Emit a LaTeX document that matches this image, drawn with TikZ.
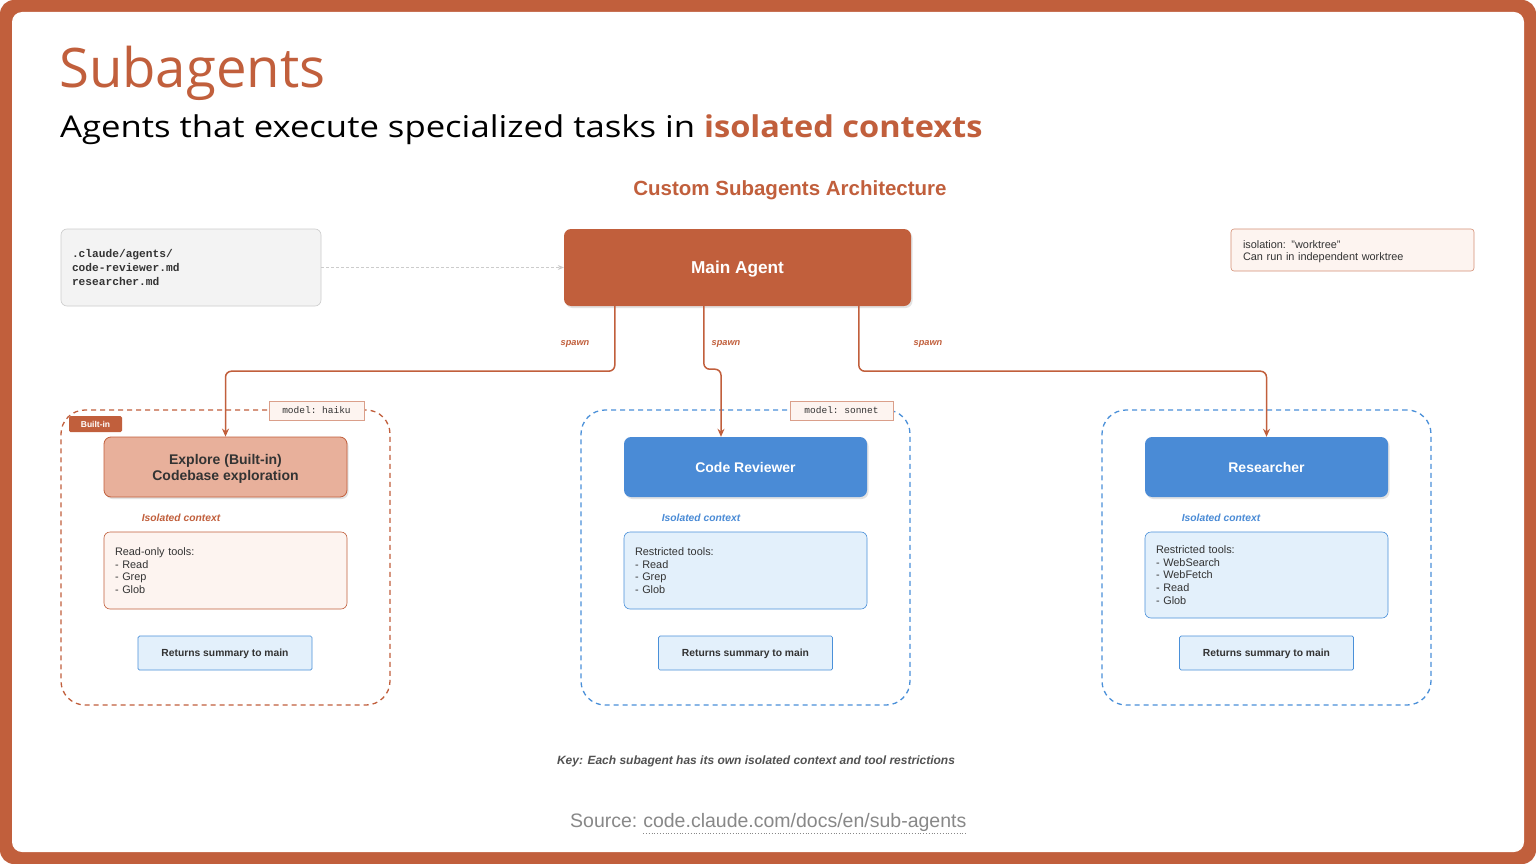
\documentclass[tikz,border=0pt]{standalone}
\usepackage{fontspec}
\setmainfont{Liberation Sans}
\setmonofont{Liberation Mono}
\newfontfamily\titlefont{Open Sans}
\newfontfamily\subfont[FakeStretch=1.156, BoldFeatures={FakeStretch=1.085}]{Open Sans}
\usetikzlibrary{arrows.meta,shadows,calc}
\definecolor{corange}{HTML}{C15F3C}
\definecolor{csalmon}{HTML}{E8B09B}
\definecolor{clight}{HTML}{FDF4F0}
\definecolor{cblue}{HTML}{4A8BD6}
\definecolor{cblueb}{HTML}{4A90D9}
\definecolor{clblue}{HTML}{E3F0FB}
\definecolor{cfile}{HTML}{F3F3F3}
\definecolor{cfileb}{HTML}{CCCCCC}
\definecolor{cdark}{HTML}{333333}
\definecolor{cgray}{HTML}{888888}
\tikzset{
  agentbox/.style={rounded corners=7pt, minimum width=243pt, minimum height=60pt, align=center, text depth=0pt,
    drop shadow={opacity=0.22, shadow xshift=1.5pt, shadow yshift=-2pt}},
  toolbox/.style={rounded corners=6pt, minimum width=243pt, minimum height=77pt, text width=221pt,
    inner xsep=11pt, align=left, text=cdark, font=\fontsize{10.9}{12.8}\selectfont, line width=0.6pt},
  retbox/.style={minimum width=174pt, minimum height=34pt, fill=clblue, draw=cblueb, line width=0.7pt, text depth=0pt,
    text=cdark, font=\bfseries\fontsize{10.3}{12}\selectfont, rounded corners=1.5pt},
  group/.style={rounded corners=24pt, minimum width=329pt, minimum height=295pt, dashed,
    dash pattern=on 5pt off 4pt, line width=1.3pt},
  modelbox/.style={fill=clight, draw=corange!60, line width=0.6pt, minimum height=19pt,
    font=\ttfamily\fontsize{9.5}{11}\selectfont, text=cdark},
  isolabel/.style={font=\bfseries\itshape\fontsize{10.3}{12}\selectfont},
  spawnlabel/.style={font=\bfseries\itshape\fontsize{9.2}{11}\selectfont, text=corange},
  spawnline/.style={draw=corange, line width=1.5pt, rounded corners=6pt,
    -{Stealth[length=8pt,width=7pt]}},
}
\begin{document}
\begin{tikzpicture}[x=1pt,y=-1pt]
\useasboundingbox (0,0) rectangle (1536,864);
% frame
\fill[white] (0,0) rectangle (1536,864);
\fill[corange, rounded corners=14pt] (0,0) rectangle (1536,864);
\fill[white!98!corange!30, rounded corners=10pt] (12,12) rectangle (1524,852);
\fill[white, rounded corners=10pt] (13,13) rectangle (1523,851);

% titles
\node[anchor=base west, inner sep=0, text=corange, font=\titlefont\fontsize{54.5}{60}\selectfont] (title) at (59,88) {Subagents};
\node[anchor=base west, inner sep=0, text=black, font=\subfont\fontsize{30}{36}\selectfont] (subtitle) at (60,138)
  {Agents that execute specialized tasks in \textcolor{corange}{\bfseries isolated contexts}};
\node[text=corange, text depth=0pt, font=\bfseries\fontsize{20.5}{24}\selectfont] (arch) at (790,188) {Custom Subagents Architecture};

% top row
\node[fill=cfile, draw=cfileb, line width=0.6pt, rounded corners=6pt, minimum width=260pt, minimum height=77pt,
  text width=238pt, inner xsep=11pt, align=left, font=\ttfamily\bfseries\fontsize{11.2}{14}\selectfont, text=cdark]
  (file) at (191,267.5) {.claude/agents/\\code-reviewer.md\\researcher.md};
\node[agentbox, fill=corange, minimum width=347pt, minimum height=77pt, text=white,
  font=\bfseries\fontsize{17.2}{20}\selectfont] (main) at (737.5,267.5) {Main Agent};
\node[fill=clight, draw=corange!70, line width=0.6pt, rounded corners=3pt, minimum width=243pt, minimum height=42pt,
  text width=219pt, inner xsep=12pt, align=left, text=cdark, text depth=10pt, font=\fontsize{10.9}{12}\selectfont]
  (iso) at (1352.5,250) {isolation: "worktree"\\Can run in independent worktree};
\draw[draw=cfileb, dashed, dash pattern=on 3pt off 2pt, line width=0.7pt, -{Stealth[length=6pt,width=5pt]}] (file) -- (main);

% groups
\node[group, draw=corange] (g1) at (225.5,557.5) {};
\node[group, draw=cblueb] (g2) at (745.5,557.5) {};
\node[group, draw=cblueb] (g3) at (1266.5,557.5) {};

\node[modelbox, minimum width=95pt] (m1) at (316.5,410.5) {model: haiku};
\node[modelbox, minimum width=103pt] (m2) at (841.5,410.5) {model: sonnet};
\node[fill=corange, rounded corners=1.5pt, minimum width=53pt, minimum height=16pt, inner sep=0,
  text=white, font=\bfseries\fontsize{8.5}{10}\selectfont] (builtin) at (95.5,424) {Built-in};

% agent boxes
\node[agentbox, fill=csalmon, draw=corange, line width=0.8pt, text=cdark,
  font=\bfseries\fontsize{14}{16}\selectfont] (expl) at (225.5,467) {Explore (Built-in)\\Codebase exploration};
\node[agentbox, fill=cblue, text=white, font=\bfseries\fontsize{14}{16}\selectfont] (cr) at (745.5,467) {Code Reviewer};
\node[agentbox, fill=cblue, text=white, font=\bfseries\fontsize{14}{16}\selectfont] (res) at (1266.5,467) {Researcher};

% isolated context labels
\node[isolabel, text=corange] (i1) at (181,518) {Isolated context};
\node[isolabel, text=cblue] (i2) at (701,518) {Isolated context};
\node[isolabel, text=cblue] (i3) at (1221,518) {Isolated context};

% tools
\node[toolbox, fill=clight, draw=corange] (t1) at (225.5,570.5) {Read-only tools:\\- Read\\- Grep\\- Glob};
\node[toolbox, fill=clblue, draw=cblueb] (t2) at (745.5,570.5) {Restricted tools:\\- Read\\- Grep\\- Glob};
\node[toolbox, fill=clblue, draw=cblueb, minimum height=86pt] (t3) at (1266.5,575) {Restricted tools:\\- WebSearch\\- WebFetch\\- Read\\- Glob};

% returns
\node[retbox] (r1) at (225,653) {Returns summary to main};
\node[retbox] (r2) at (745.5,653) {Returns summary to main};
\node[retbox] (r3) at (1266.5,653) {Returns summary to main};

% spawn connectors
\draw[spawnline] ([xshift=51pt]main.south west) -- ++(0,65) -| (expl.north);
\draw[spawnline] ([xshift=140pt]main.south west) -- ++(0,63) -| ([xshift=-24.5pt]cr.north);
\draw[spawnline] ([xshift=295pt]main.south west) -- ++(0,65) -| (res.north);
\node[spawnlabel] (s1) at (575,344) {spawn};
\node[spawnlabel] (s2) at (726,344) {spawn};
\node[spawnlabel] (s3) at (928,344) {spawn};

% key and source
\node[font=\bfseries\itshape\fontsize{12}{14}\selectfont, text=cdark!85] (key) at (756,761)
  {Key: Each subagent has its own isolated context and tool restrictions};
\node[anchor=base west, inner sep=0, text=cgray, font=\fontsize{19.5}{23}\selectfont] (src) at (570,827) {Source:};
\node[anchor=base west, inner sep=0, text=cgray, font=\fontsize{19.5}{23}\selectfont] (url) at ([xshift=5.5pt]src.base east) {code.claude.com/docs/en/sub-agents};
\draw[cgray, dotted, line width=0.8pt] ([yshift=-6pt]url.base west) -- ([yshift=-6pt]url.base east);
\end{tikzpicture}
\end{document}
